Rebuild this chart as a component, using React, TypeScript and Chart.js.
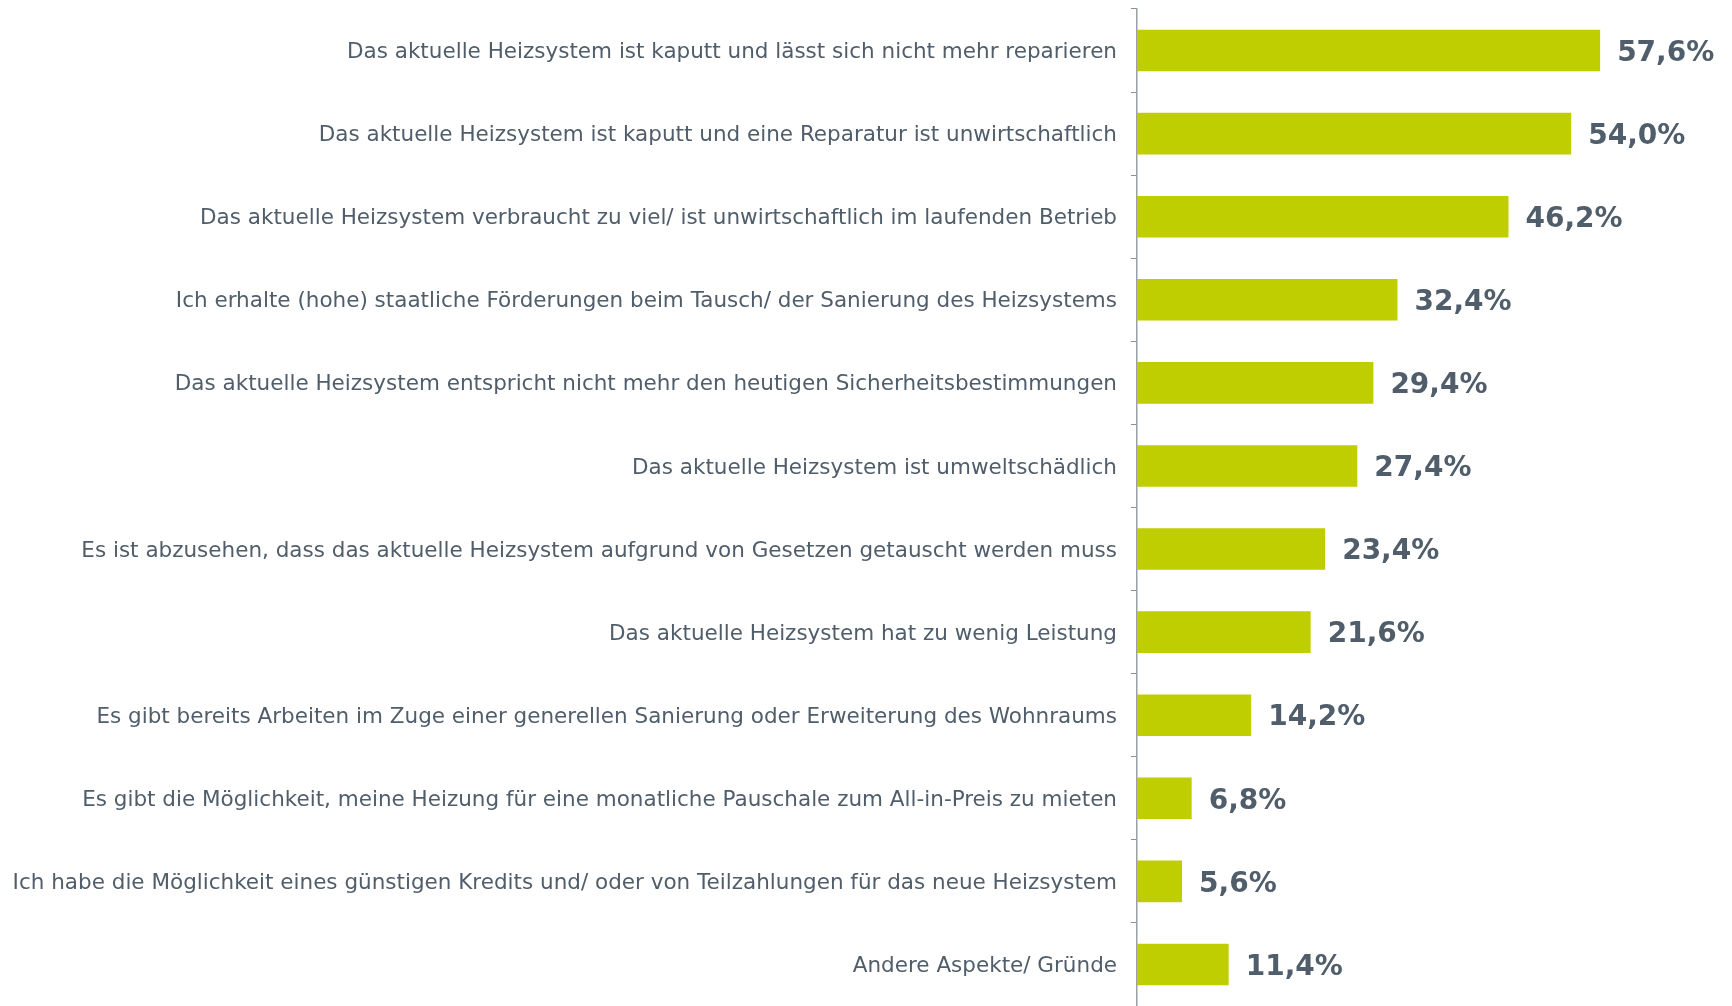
import React, { useEffect, useRef } from "react";
import { Chart, registerables } from "chart.js";

Chart.register(...registerables);

const categories = [
  "Das aktuelle Heizsystem ist kaputt und lässt sich nicht mehr reparieren",
  "Das aktuelle Heizsystem ist kaputt und eine Reparatur ist unwirtschaftlich",
  "Das aktuelle Heizsystem verbraucht zu viel/ ist unwirtschaftlich im laufenden Betrieb",
  "Ich erhalte (hohe) staatliche Förderungen beim Tausch/ der Sanierung des Heizsystems",
  "Das aktuelle Heizsystem entspricht nicht mehr den heutigen Sicherheitsbestimmungen",
  "Das aktuelle Heizsystem ist umweltschädlich",
  "Es ist abzusehen, dass das aktuelle Heizsystem aufgrund von Gesetzen getauscht werden muss",
  "Das aktuelle Heizsystem hat zu wenig Leistung",
  "Es gibt bereits Arbeiten im Zuge einer generellen Sanierung oder Erweiterung des Wohnraums",
  "Es gibt die Möglichkeit, meine Heizung für eine monatliche Pauschale zum All-in-Preis zu mieten",
  "Ich habe die Möglichkeit eines günstigen Kredits und/ oder von Teilzahlungen für das neue Heizsystem",
  "Andere Aspekte/ Gründe",
];

const values = [57.6, 54.0, 46.2, 32.4, 29.4, 27.4, 23.4, 21.6, 14.2, 6.8, 5.6, 11.4];

const BAR_COLOR = "#bfce00";
const TEXT_COLOR = "#505d6a";
const FONT = "Verdana, 'DejaVu Sans', sans-serif";

const valueLabels = {
  id: "valueLabels",
  afterDatasetsDraw(chart: any) {
    const ctx = chart.ctx;
    const meta = chart.getDatasetMeta(0);
    ctx.save();
    ctx.fillStyle = TEXT_COLOR;
    ctx.font = `bold 28px ${FONT}`;
    ctx.textAlign = "left";
    ctx.textBaseline = "middle";
    meta.data.forEach((bar: any, i: number) => {
      const txt = values[i].toFixed(1).replace(".", ",") + "%";
      ctx.fillText(txt, bar.x + 17, bar.y + 3);
    });
    ctx.restore();
  },
};

export default function App() {
  const ref = useRef<HTMLCanvasElement>(null);
  useEffect(() => {
    if (!ref.current) return;
    const chart = new Chart(ref.current, {
      type: "bar",
      data: {
        labels: categories,
        datasets: [
          {
            data: values,
            backgroundColor: BAR_COLOR,
            barPercentage: 0.5,
            categoryPercentage: 1,
          },
        ],
      },
      options: {
        indexAxis: "y",
        animation: false,
        responsive: false,
        maintainAspectRatio: false,
        layout: { padding: { top: 9, bottom: 0, right: 0, left: 0 } },
        plugins: {
          legend: { display: false },
          tooltip: { enabled: false },
        },
        scales: {
          x: {
            display: false,
            min: 0,
            max: 74,
          },
          y: {
            afterFit: (scale: any) => {
              scale.width = 1137;
              scale.paddingTop = 0;
              scale.paddingBottom = 0;
            },
            border: { display: true, color: "#9aa0a6", width: 1.5 },
            grid: {
              offset: true,
              drawOnChartArea: false,
              drawTicks: true,
              tickLength: 6,
              color: "#8a9098",
            },
            ticks: {
              color: TEXT_COLOR,
              font: { family: FONT, size: 21.5 },
              padding: 14,
              labelOffset: 2,
            },
          },
        },
      },
      plugins: [valueLabels],
    });
    return () => chart.destroy();
  }, []);
  return (
    <div style={{ position: "fixed", left: 0, top: 0, width: 1732, height: 1006, background: "#fff" }}>
      <canvas ref={ref} width={1732} height={1006} />
    </div>
  );
}
